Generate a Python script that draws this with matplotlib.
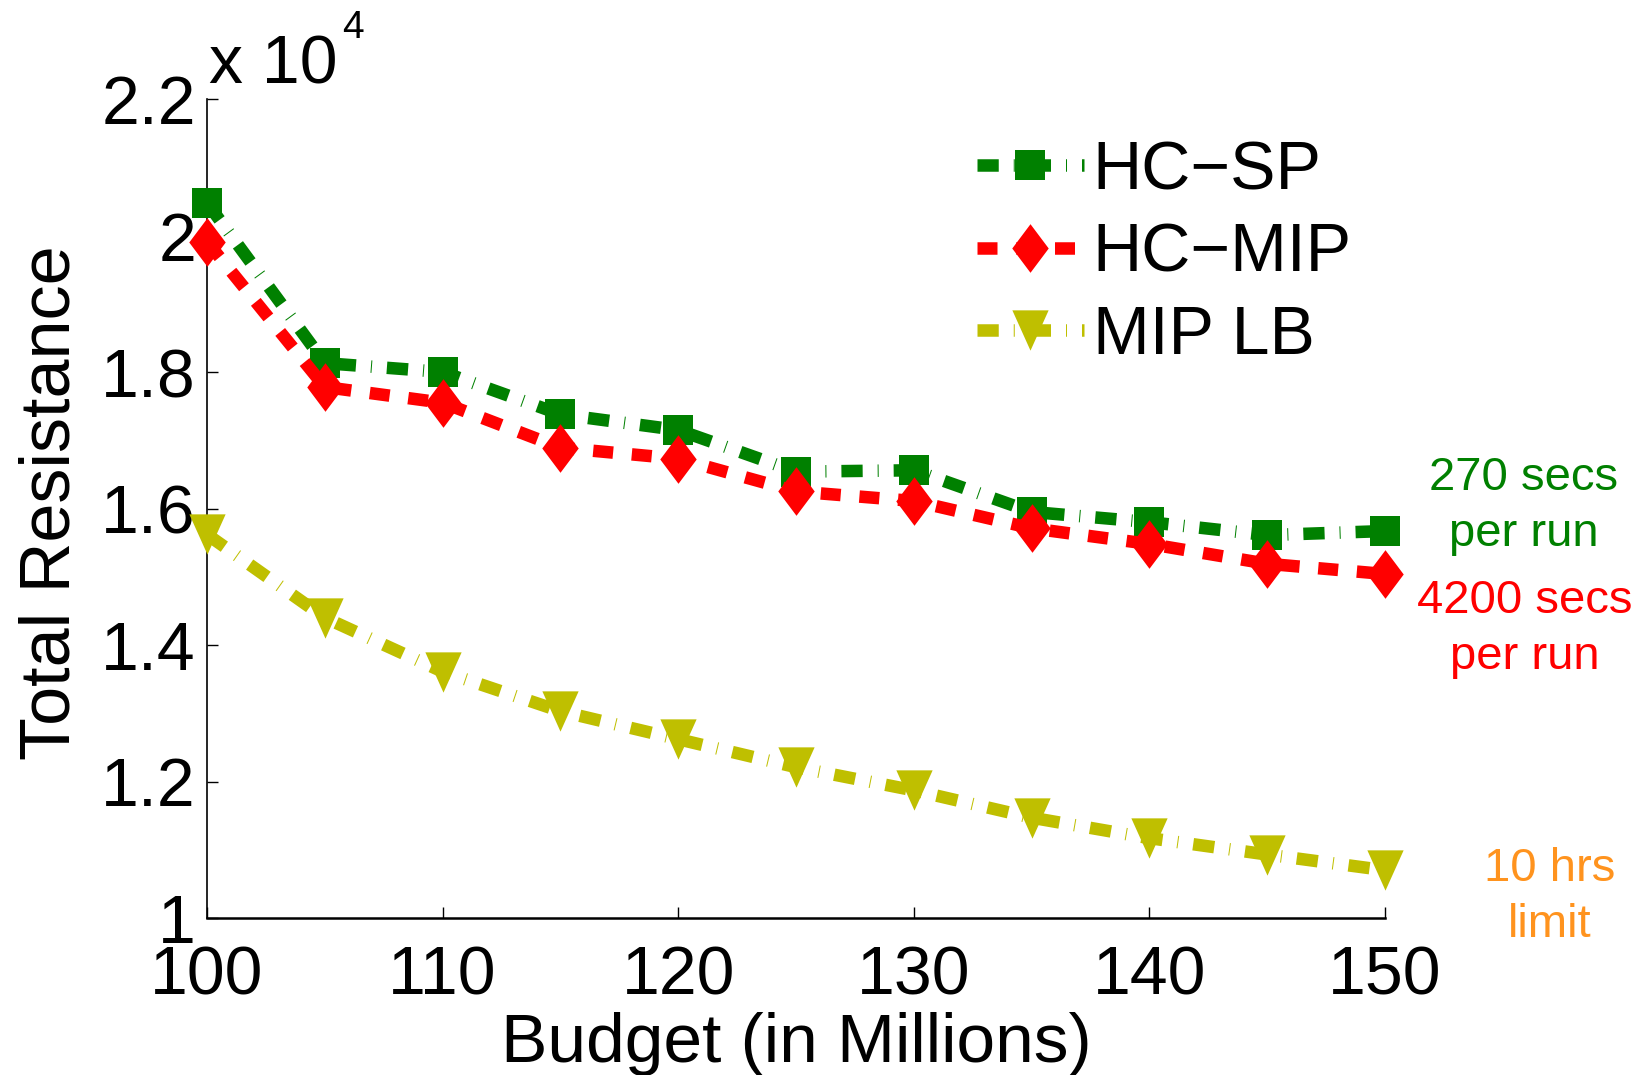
import matplotlib
matplotlib.use('Agg')
from matplotlib import pyplot as plt

plt.rcParams['font.family'] = ['Liberation Sans', 'DejaVu Sans']

# datos (resistencia en unidades de 10^4)
budget = [100, 105, 110, 115, 120, 125, 130, 135, 140, 145, 150]
hc_sp = [2.048, 1.813, 1.800, 1.738, 1.715, 1.654, 1.656, 1.595, 1.580, 1.561, 1.567]
hc_mip = [1.991, 1.778, 1.755, 1.689, 1.673, 1.625, 1.611, 1.571, 1.548, 1.519, 1.504]
mip_lb = [1.562, 1.440, 1.361, 1.303, 1.262, 1.221, 1.187, 1.147, 1.117, 1.093, 1.070]

x_ticks = [100, 110, 120, 130, 140, 150]
y_ticks = [1.0, 1.2, 1.4, 1.6, 1.8, 2.0, 2.2]
y_ticklabels = ['1', '1.2', '1.4', '1.6', '1.8', '2', '2.2']

green = '#008000'
red = '#FF0000'
olive = '#BFBF00'
orange = '#FF931E'

W, H = 1651, 1075
fig = plt.figure(figsize=(W / 100, H / 100), dpi=100)
ax = fig.add_axes([207 / W, 157 / H, (1385 - 207) / W, (918 - 99) / H])

lw = 9
dashdot = (1.7, 1.2, 0.08, 1.2)
dashed = (1.6, 1.5)
diamond = [(0, 1), (0.75, 0), (0, -1), (-0.75, 0)]
tri_down = [(-0.9, 1), (0.9, 1), (0, -1)]

ax.plot(budget, hc_sp, color=green, lw=lw, dashes=dashdot, marker='s', ms=21,
        mew=0, clip_on=False, label='HC\u2212SP', zorder=3)
ax.plot(budget, hc_mip, color=red, lw=lw, dashes=dashed, marker=diamond, ms=35,
        mew=0, clip_on=False, label='HC\u2212MIP', zorder=4)
ax.plot(budget, mip_lb, color=olive, lw=lw, dashes=dashdot, marker=tri_down, ms=29,
        mew=0, clip_on=False, label='MIP LB', zorder=3)

ax.set_xlim(100, 150)
ax.set_ylim(1.0, 2.2)
ax.set_xticks(x_ticks)
ax.set_yticks(y_ticks)
ax.set_yticklabels(y_ticklabels)

ax.spines['top'].set_visible(False)
ax.spines['right'].set_visible(False)
ax.spines['left'].set_linewidth(1.2)
ax.spines['bottom'].set_linewidth(1.8)
ax.tick_params(direction='in', length=8, width=1, labelsize=49)
ax.tick_params(axis='x', pad=19)
ax.tick_params(axis='y', pad=8)

ax.set_xlabel('Budget (in Millions)', fontsize=50)
ax.set_ylabel('Total Resistance', fontsize=50.5)
ax.xaxis.set_label_coords(0.5, -0.115)
ax.yaxis.set_label_coords(-0.104, 0.507)

# multiplicador del eje y
fig.text(209 / W, 1 - 83 / H, 'x 10', fontsize=49, ha='left', va='baseline')
fig.text(342 / W, 1 - 38 / H, '4', fontsize=28, ha='left', va='baseline')

leg = ax.legend(loc='upper left', bbox_to_anchor=(977 / W, 1 - 139 / H),
                bbox_transform=fig.transFigure, frameon=False, fontsize=49,
                handlelength=1.57, handletextpad=0.13, labelspacing=0.27,
                borderpad=0, borderaxespad=0, numpoints=1)

# tiempos de cada método
fig.text(1524 / W, 1 - 456 / H, '270 secs\nper run', color=green, fontsize=34,
         ha='center', va='top', linespacing=1.35)
fig.text(1525 / W, 1 - 579 / H, '4200 secs\nper run', color=red, fontsize=34,
         ha='center', va='top', linespacing=1.35)
fig.text(1550 / W, 1 - 847 / H, '10 hrs\nlimit', color=orange, fontsize=34,
         ha='center', va='top', linespacing=1.35)

fig.savefig('out.png', dpi=100)
